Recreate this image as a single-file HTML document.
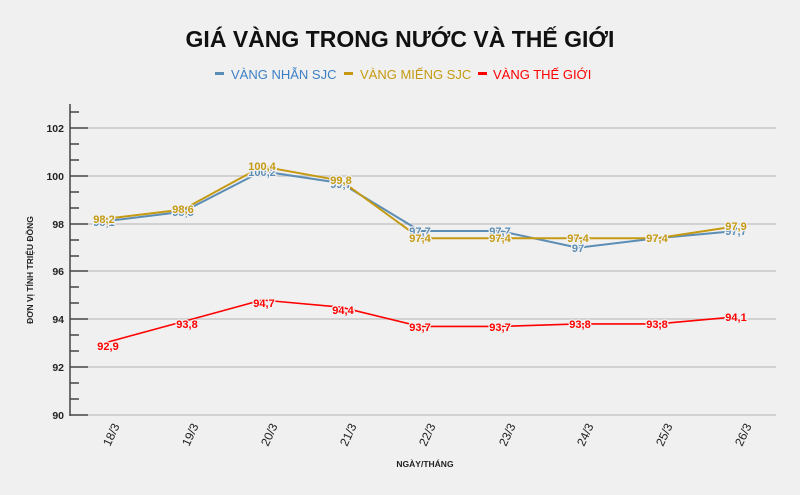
<!DOCTYPE html>
<html><head><meta charset="utf-8"><style>
body{margin:0;background:#f0f0f0;}
svg{display:block;font-family:"Liberation Sans",Arial,sans-serif;}
</style></head><body>
<svg width="800" height="495" viewBox="0 0 800 495">
<rect width="800" height="495" fill="#f0f0f0"/>
<text x="400" y="47" text-anchor="middle" font-size="23" font-weight="bold" fill="#111">GIÁ VÀNG TRONG NƯỚC VÀ THẾ GIỚI</text>
<g font-size="13">
<rect x="215" y="72" width="9" height="3" fill="#5b8db5"/><text x="231" y="79" fill="#3d80c4">VÀNG NHẪN SJC</text>
<rect x="344" y="72" width="9" height="3" fill="#c59a12"/><text x="360" y="79" fill="#c59a12">VÀNG MIẾNG SJC</text>
<rect x="478" y="72" width="9" height="3" fill="#f00"/><text x="493" y="79" fill="#f00">VÀNG THẾ GIỚI</text>
</g>
<g stroke="#c8c8c8" stroke-width="1.5">
<line x1="88" y1="128" x2="776" y2="128"/><line x1="88" y1="176" x2="776" y2="176"/><line x1="88" y1="224" x2="776" y2="224"/><line x1="88" y1="271" x2="776" y2="271"/><line x1="88" y1="319" x2="776" y2="319"/><line x1="88" y1="367" x2="776" y2="367"/><line x1="88" y1="415" x2="776" y2="415"/>
</g>
<g stroke="#444" stroke-width="1.5">
<line x1="70" y1="104" x2="70" y2="416"/>
<line x1="70" y1="112" x2="79" y2="112"/><line x1="70" y1="128" x2="88" y2="128"/><line x1="70" y1="144" x2="79" y2="144"/><line x1="70" y1="160" x2="79" y2="160"/><line x1="70" y1="176" x2="88" y2="176"/><line x1="70" y1="192" x2="79" y2="192"/><line x1="70" y1="208" x2="79" y2="208"/><line x1="70" y1="224" x2="88" y2="224"/><line x1="70" y1="240" x2="79" y2="240"/><line x1="70" y1="256" x2="79" y2="256"/><line x1="70" y1="271" x2="88" y2="271"/><line x1="70" y1="287" x2="79" y2="287"/><line x1="70" y1="303" x2="79" y2="303"/><line x1="70" y1="319" x2="88" y2="319"/><line x1="70" y1="335" x2="79" y2="335"/><line x1="70" y1="351" x2="79" y2="351"/><line x1="70" y1="367" x2="88" y2="367"/><line x1="70" y1="383" x2="79" y2="383"/><line x1="70" y1="399" x2="79" y2="399"/><line x1="70" y1="415" x2="88" y2="415"/>
</g>
<g font-size="10.5" font-weight="bold" fill="#222" text-anchor="end">
<text x="64" y="132">102</text><text x="64" y="180">100</text><text x="64" y="228">98</text><text x="64" y="275">96</text><text x="64" y="323">94</text><text x="64" y="371">92</text><text x="64" y="419">90</text>
</g>
<text transform="translate(33,270) rotate(-90)" text-anchor="middle" font-size="8.5" font-weight="bold" fill="#222">ĐƠN VỊ TÍNH TRIỆU ĐỒNG</text>
<text x="425" y="467" text-anchor="middle" font-size="8.5" font-weight="bold" fill="#222">NGÀY/THÁNG</text>
<g font-size="12" fill="#222">
<text transform="translate(110,447) rotate(-65)">18/3</text>
<text transform="translate(189,447) rotate(-65)">19/3</text>
<text transform="translate(268,447) rotate(-65)">20/3</text>
<text transform="translate(347,447) rotate(-65)">21/3</text>
<text transform="translate(426,447) rotate(-65)">22/3</text>
<text transform="translate(506,447) rotate(-65)">23/3</text>
<text transform="translate(584,447) rotate(-65)">24/3</text>
<text transform="translate(663,447) rotate(-65)">25/3</text>
<text transform="translate(742,447) rotate(-65)">26/3</text>
</g>
<polyline fill="none" stroke="#5b8db5" stroke-width="2" points="104,221.4 183,211.8 262,171.2 341,183.1 420,231.0 500,231.0 578,247.7 657,238.2 736,231.0"/>
<polyline fill="none" stroke="#c59a12" stroke-width="2" points="104,219.0 183,209.5 262,166.4 341,180.7 420,238.2 500,238.2 578,238.2 657,238.2 736,226.2"/>
<polyline fill="none" stroke="#f00" stroke-width="1.6" points="104,343.1 183,321.6 262,300.0 341,307.2 420,326.4 500,326.4 578,323.9 657,323.9 736,316.8"/>
<g font-size="11" font-weight="bold" text-anchor="middle" stroke="#f0f0f0" stroke-width="2.5" paint-order="stroke">
<g fill="#5b8db5"><text x="104" y="226">98,1</text><text x="183" y="216">98,5</text><text x="262" y="176">100,2</text><text x="341" y="188">99,7</text><text x="420" y="235">97,7</text><text x="500" y="235">97,7</text><text x="578" y="252">97</text><text x="657" y="243">97,4</text><text x="736" y="235">97,7</text></g>
<g fill="#c59a12"><text x="104" y="223">98,2</text><text x="183" y="213">98,6</text><text x="262" y="170">100,4</text><text x="341" y="184">99,8</text><text x="420" y="242">97,4</text><text x="500" y="242">97,4</text><text x="578" y="242">97,4</text><text x="657" y="242">97,4</text><text x="736" y="230">97,9</text></g>
<g fill="#f00"><text x="108" y="350">92,9</text><text x="187" y="328">93,8</text><text x="264" y="307">94,7</text><text x="343" y="314">94,4</text><text x="420" y="331">93,7</text><text x="500" y="331">93,7</text><text x="580" y="328">93,8</text><text x="657" y="328">93,8</text><text x="736" y="321">94,1</text></g>
</g>
</svg>
</body></html>
